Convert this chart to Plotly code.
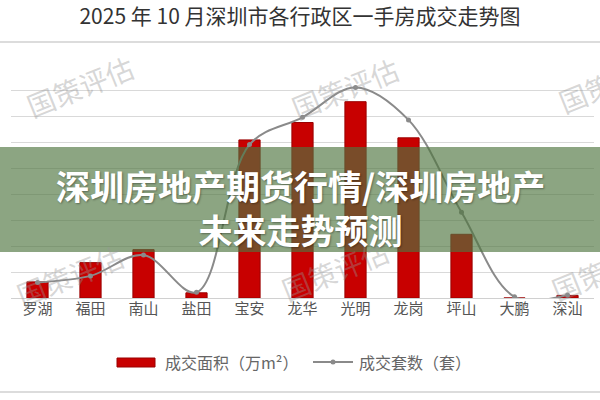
import plotly.graph_objects as go

# ---- data (units = grid steps) ----
districts = ["罗湖", "福田", "南山", "盐田", "宝安", "龙华", "光明", "龙岗", "坪山", "大鹏", "深汕"]
area_values = [0.62, 1.36, 1.86, 0.2, 6.08, 6.75, 7.55, 6.16, 2.45, 0.0, 0.1]
unit_values = [0.6, 0.85, 1.65, 0.22, 5.9, 6.95, 8.1, 6.85, 3.3, 0.05, 0.12]
series_names = ["成交面积（万m²）", "成交套数（套）"]
title_text = "2025 年 10 月深圳市各行政区一手房成交走势图"
overlay_text = "深圳房地产期货行情/深圳房地产<br>未来走势预测"
watermark_text = "国策评估"

W, H = 600, 400
L, R, T, B = 11, 6, 64, 102
PW, PH = W - L - R, H - T - B
BAR_COLOR = "#C80000"
LINE_COLOR = "#8a8a8a"


def px(x):
    return (x - L) / PW


def py(y):
    return (H - B - y) / PH


fig = go.Figure()
fig.add_trace(go.Bar(
    x=districts, y=area_values, name=series_names[0],
    marker=dict(color=BAR_COLOR, line=dict(color="#9A0000", width=1)),
    width=0.4, showlegend=False,
))
fig.add_trace(go.Scatter(
    x=districts, y=unit_values, name=series_names[1], yaxis="y2",
    mode="lines+markers",
    line=dict(color=LINE_COLOR, width=2, shape="spline", smoothing=1.0),
    marker=dict(color=LINE_COLOR, size=5), showlegend=False,
))

shapes = [
    dict(type="line", xref="paper", yref="paper", x0=px(0), x1=px(W), y0=py(42), y1=py(42),
         line=dict(color="#dcdcdc", width=2)),
    dict(type="line", xref="paper", yref="paper", x0=px(0), x1=px(W), y0=py(392), y1=py(392),
         line=dict(color="#dcdcdc", width=2)),
    dict(type="rect", xref="paper", yref="paper", x0=px(0), x1=px(W), y0=py(252), y1=py(147),
         fillcolor="rgba(78,117,63,0.65)", line=dict(width=0), layer="above"),
    # legend keys
    dict(type="rect", xref="paper", yref="paper", x0=px(117), x1=px(155), y0=py(367), y1=py(358),
         fillcolor=BAR_COLOR, line=dict(color="#9A0000", width=1)),
    dict(type="line", xref="paper", yref="paper", x0=px(313), x1=px(353), y0=py(362), y1=py(362),
         line=dict(color=LINE_COLOR, width=2)),
    dict(type="circle", xref="paper", yref="paper", x0=px(330.5), x1=px(335.5), y0=py(364.5), y1=py(359.5),
         fillcolor=LINE_COLOR, line=dict(width=0)),
]

annotations = []
for (wx, wy) in [(80, 86), (345, 88), (612, 82), (70, 275), (335, 270), (605, 270)]:
    annotations.append(dict(
        text=watermark_text, xref="paper", yref="paper", x=px(wx), y=py(wy),
        xanchor="center", yanchor="middle",
        showarrow=False, textangle=-22,
        font=dict(family="Noto Sans CJK SC", size=28, color="rgba(150,150,150,0.38)"),
    ))
annotations.append(dict(
    text=overlay_text, xref="paper", yref="paper", x=px(300), y=py(207),
    showarrow=False, xanchor="center", yanchor="middle",
    font=dict(family="Noto Sans CJK SC", size=34, color="white", weight="bold",
              shadow="1px 1px 2px rgba(0,0,0,0.35)"),
))
for name, lx in zip(series_names, [163, 357]):
    annotations.append(dict(
        text=name, xref="paper", yref="paper", x=px(lx), y=py(362),
        showarrow=False, xanchor="left", yanchor="middle",
        font=dict(family="Noto Sans CJK SC", size=16, color="#666666"),
    ))

fig.update_layout(
    width=W, height=H,
    margin=dict(l=L, r=R, t=T, b=B, autoexpand=False),
    paper_bgcolor="white", plot_bgcolor="white",
    title=dict(text=title_text, x=0.5, xanchor="center", y=1 - 17 / H, yanchor="middle",
               font=dict(family="Noto Sans CJK SC", size=21, color="#333333")),
    xaxis=dict(range=[-0.5, 10.5], showgrid=False, showline=False, ticks="", automargin=False,
               tickfont=dict(family="Noto Sans CJK SC", size=15, color="#555555")),
    yaxis=dict(range=[0, 9], dtick=1, showgrid=True, gridcolor="#d9d9d9", gridwidth=1,
               zeroline=True, zerolinecolor="#d0d0d0", zerolinewidth=1, automargin=False,
               showticklabels=False, ticks=""),
    yaxis2=dict(range=[0, 9], overlaying="y", showgrid=False, zeroline=False, automargin=False,
                showticklabels=False, ticks=""),
    showlegend=False,
    shapes=shapes,
    annotations=annotations,
)

fig.write_html("out.html", config={"displayModeBar": False},
               post_script="document.body.style.margin='0';")
